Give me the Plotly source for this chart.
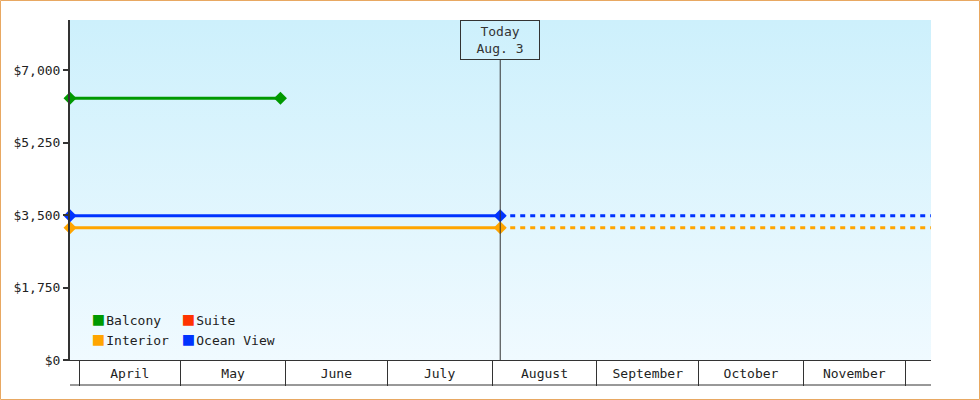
import plotly.graph_objects as go

# ---- data ----
categories = ["Balcony", "Suite", "Interior", "Ocean View"]
colors = ["#009900", "#ff3300", "#ffa500", "#0033ff"]
start_date = "2023-03-29 08:00"
today = "2023-08-03 10:00"
end_date = "2023-12-08 16:00"
balcony_dates = ["2023-03-29 08:00", "2023-05-30 12:00"]
balcony_prices = [6320, 6320]
interior_price = 3190
ocean_price = 3480
y_max = 8207
y_ticks = [0, 1750, 3500, 5250, 7000]
y_tick_labels = ["$0", "$1,750", "$3,500", "$5,250", "$7,000"]

FONT = "DejaVu Sans Mono"
INK = "#333333"

fig = go.Figure()

# background gradient
fig.add_trace(go.Scatter(
    x=[start_date, end_date, end_date, start_date, start_date],
    y=[0, 0, y_max, y_max, 0],
    fill="toself", mode="lines", line=dict(width=0),
    fillgradient=dict(type="vertical", colorscale=[[0, "#f0faff"], [1, "#cdf0fc"]]),
    hoverinfo="skip", showlegend=False))

# Balcony
fig.add_trace(go.Scatter(
    x=balcony_dates, y=balcony_prices, mode="lines+markers",
    line=dict(color=colors[0], width=3),
    marker=dict(symbol="diamond", size=10, color=colors[0]),
    cliponaxis=False, showlegend=False))

# Interior & Ocean View: solid until today, dashed after
for price, col in [(interior_price, colors[2]), (ocean_price, colors[3])]:
    fig.add_trace(go.Scatter(
        x=[today, end_date], y=[price, price], mode="lines",
        line=dict(color=col, width=3, dash="5px,5px"),
        showlegend=False))
    fig.add_trace(go.Scatter(
        x=[start_date, today], y=[price, price], mode="lines+markers",
        line=dict(color=col, width=3),
        marker=dict(symbol="diamond", size=10, color=col),
        cliponaxis=False, showlegend=False))

# legend entries (square swatch glyph in the label)
legend_ids = ["legend", "legend2", "legend", "legend2"]
for name, col, lg in zip(categories, colors, legend_ids):
    fig.add_trace(go.Scatter(
        x=[None], y=[None], mode="markers",
        name=(f'<span style="color:{col};font-size:18px;">■</span>'
              f'<span style="font-size:4px;"> </span>{name}'),
        marker=dict(symbol="square", size=1, color="rgba(0,0,0,0)"),
        legend=lg, showlegend=True))

# today vertical line
fig.add_shape(type="line", xref="x", yref="paper", x0=today, x1=today,
              y0=0, y1=(360 - 60) / 340, line=dict(color=INK, width=1))
fig.add_annotation(x=today, y=1, xref="x", yref="paper", yanchor="top",
                   text="Today<br>Aug. 3", showarrow=False,
                   font=dict(family=FONT, size=13, color=INK),
                   bordercolor=INK, borderwidth=1, borderpad=0,
                   width=78, height=38, bgcolor="rgba(0,0,0,0)")

# bottom line of month label row
fig.add_shape(type="line", xref="paper", yref="y domain", ysizemode="pixel",
              yanchor=0, x0=0, x1=1, y0=-25, y1=-25,
              line=dict(color=INK, width=1))

# outer border
fig.add_shape(type="rect", xref="paper", yref="paper",
              x0=(0.5 - 70) / 861, x1=(979.5 - 70) / 861,
              y0=(360 - 399.5) / 340, y1=359.5 / 340,
              line=dict(color="#e8a862", width=1), layer="below")

legend_font = dict(family=FONT, size=13, color="#222")
fig.update_layout(
    width=980, height=400,
    margin=dict(l=70, r=49, t=20, b=40),
    paper_bgcolor="white", plot_bgcolor="white",
    font=dict(family=FONT, size=13, color=INK),
    legend=dict(x=(53 - 70) / 861, y=0.015, xanchor="left", yanchor="bottom",
                bgcolor="rgba(0,0,0,0)", font=legend_font,
                itemwidth=30, tracegroupgap=0),
    legend2=dict(x=(143 - 70) / 861, y=0.015, xanchor="left", yanchor="bottom",
                 bgcolor="rgba(0,0,0,0)", font=legend_font,
                 itemwidth=30, tracegroupgap=0),
    xaxis=dict(type="date", range=[start_date, end_date],
               dtick="M1", tick0="2023-01-01", tickformat="%B",
               ticklabelmode="period", ticks="outside", ticklen=25,
               tickwidth=1, tickcolor=INK, showline=True, linecolor=INK,
               linewidth=1, showgrid=False, zeroline=False,
               ticklabelstandoff=-24,
               tickfont=dict(family=FONT, size=13, color="#222")),
    yaxis=dict(range=[0, y_max], tickvals=y_ticks, ticktext=y_tick_labels,
               ticks="outside", ticklen=5, tickwidth=2,
               tickcolor=INK, showline=True, linecolor=INK, linewidth=2,
               showgrid=False, zeroline=False,
               tickfont=dict(family=FONT, size=13, color="#222")),
)

fig.write_html("out.html", config={"displayModeBar": False},
               post_script="document.body.style.margin='0';document.body.style.padding='0';")
